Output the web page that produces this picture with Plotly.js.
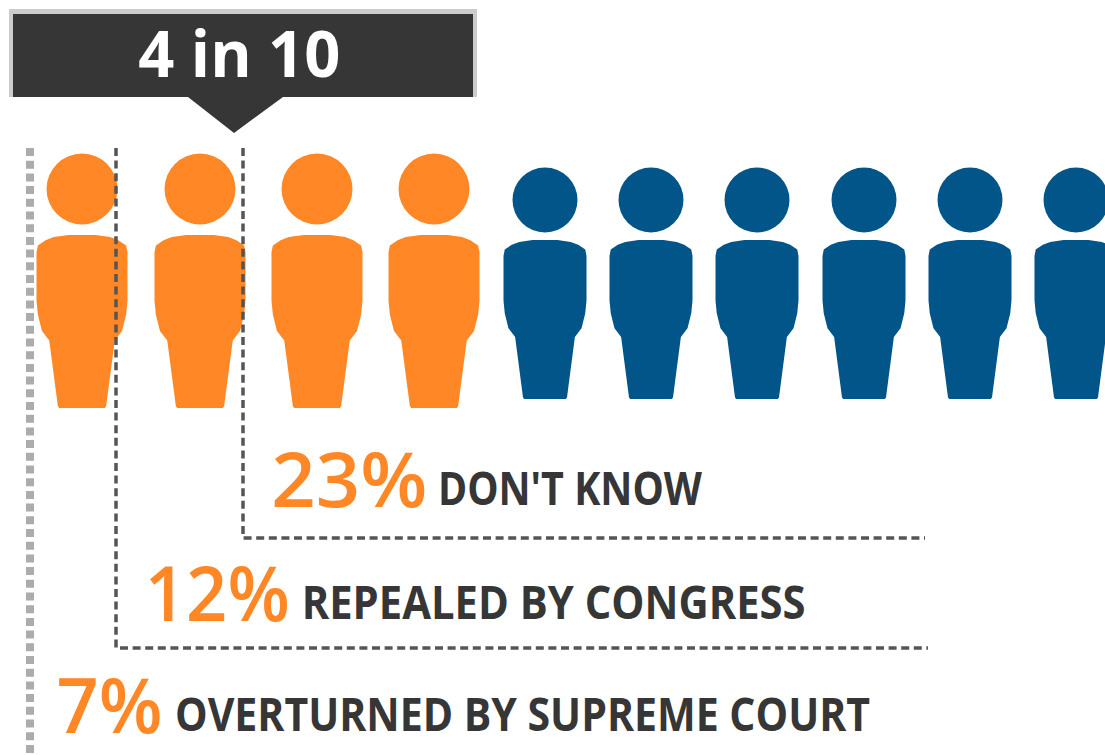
<!DOCTYPE html>
<html>
<head>
<meta charset="utf-8">
<script src="https://cdn.plot.ly/plotly-3.0.1.min.js"></script>
<style>html,body{margin:0;padding:0;background:#fff}</style>
</head>
<body>
<div id="chart" style="width:1105px;height:755px"></div>
<script>
// Survey shares
const headline = "4 in 10";
const shares = ["23%", "12%", "7%"];
const answers = ["DON'T KNOW", "REPEALED BY CONGRESS", "OVERTURNED BY SUPREME COURT"];

// Pictogram columns: four highlighted people, six others
const highlightedX = [82, 200, 317, 434];
const otherX = [545, 651, 757, 864, 970, 1076];

// Right half of a person's torso, as fractions of half-width and height
const torsoDx = [0, 0.3, 0.62, 0.8, 0.97, 1, 1, 0.97, 0.88, 0.72, 0.53, 0.5];
const torsoDy = [0, 0, 0.012, 0.03, 0.06, 0.1, 0.38, 0.46, 0.555, 0.61, 0.99, 1];

const ORANGE = "#FF8725", BLUE = "#015589", DARK = "#363636", GREY = "#555555";

function torsos(centres, top, bottom, halfWidth) {
  const xs = [], ys = [];
  centres.forEach(c => {
    torsoDx.forEach((d, i) => { xs.push(c + d * halfWidth); ys.push(top + torsoDy[i] * (bottom - top)); });
    for (let i = torsoDx.length - 1; i >= 0; i--) { xs.push(c - torsoDx[i] * halfWidth); ys.push(top + torsoDy[i] * (bottom - top)); }
    xs.push(null); ys.push(null);
  });
  return {x: xs, y: ys, mode: "lines", fill: "toself", line: {width: 0}, hoverinfo: "skip"};
}

const traces = [
  Object.assign(torsos(highlightedX, 235, 408, 45.5), {fillcolor: ORANGE}),
  Object.assign(torsos(otherX, 240, 399, 41.5), {fillcolor: BLUE}),
  {x: highlightedX, y: highlightedX.map(() => 189), mode: "markers", hoverinfo: "skip",
   marker: {color: ORANGE, size: 71, line: {width: 0}}},
  {x: otherX, y: otherX.map(() => 200), mode: "markers", hoverinfo: "skip",
   marker: {color: BLUE, size: 65, line: {width: 0}}},
  // Brackets tying each answer back to the people it covers
  {x: [30, 30], y: [148, 755], mode: "lines", hoverinfo: "skip",
   line: {color: "#ACACAC", width: 8, dash: "8px,4.7px"}},
  {x: [116, 116, 928], y: [148, 648, 648], mode: "lines", hoverinfo: "skip",
   line: {color: GREY, width: 3.5, dash: "8px,4.6px"}},
  {x: [243, 243, 925], y: [148, 538, 538], mode: "lines", hoverinfo: "skip",
   line: {color: GREY, width: 3.5, dash: "8px,4.6px"}},
  // Callout banner with its pointer
  {x: [9, 477, 477, 9, 9], y: [9, 9, 97, 97, 9], mode: "lines", fill: "toself", hoverinfo: "skip",
   fillcolor: "#CCCCCC", line: {width: 0}},
  {x: [13, 473, 473, 283, 234, 188, 13, 13], y: [14, 14, 97, 97, 133, 97, 97, 14], mode: "lines", fill: "toself",
   hoverinfo: "skip", fillcolor: DARK, line: {width: 0}}
];

// Horizontal extent of each piece of text, in axis units
const shareLeft = [271, 145, 56], shareRight = [427, 290, 162];
const answerLeft = [438, 301, 175], answerRight = [702, 805, 870];
const baseY = [507, 621, 733];

const annotations = [{
  text: headline, x: 239, y: 52, xref: "x", yref: "y", showarrow: false, xanchor: "center", yanchor: "middle",
  font: {family: "Open Sans", size: 64, color: "#FFFFFF", weight: 700}
}];
const spans = {[headline]: 202};
shares.forEach((s, i) => {
  spans[s] = shareRight[i] - shareLeft[i];
  annotations.push({
    text: s, x: (shareLeft[i] + shareRight[i]) / 2, y: baseY[i], yshift: -24, xref: "x", yref: "y", showarrow: false,
    xanchor: "center", yanchor: "bottom",
    font: {family: "Open Sans", size: 76, color: ORANGE, weight: 600}
  });
});
answers.forEach((s, i) => {
  spans[s] = answerRight[i] - answerLeft[i];
  annotations.push({
    text: s, x: (answerLeft[i] + answerRight[i]) / 2, y: baseY[i], yshift: -13, xref: "x", yref: "y", showarrow: false,
    xanchor: "center", yanchor: "bottom",
    font: {family: "Open Sans", size: 46, color: DARK, weight: 700}
  });
});

Plotly.newPlot("chart", traces, {
  width: 1105, height: 755, margin: {l: 0, r: 0, t: 0, b: 0, pad: 0},
  paper_bgcolor: "#FFFFFF", plot_bgcolor: "#FFFFFF", showlegend: false,
  xaxis: {range: [0, 1105], visible: false, fixedrange: true},
  yaxis: {range: [755, 0], visible: false, fixedrange: true},
  annotations
}, {displayModeBar: false, staticPlot: true}).then(gd => {
  // The typeface is set narrower than any installed family, so fit each run to its span
  gd.querySelectorAll(".annotation-text").forEach(el => {
    el.setAttribute("textLength", spans[el.textContent]);
    el.setAttribute("lengthAdjust", "spacingAndGlyphs");
  });
});
</script>
</body>
</html>
